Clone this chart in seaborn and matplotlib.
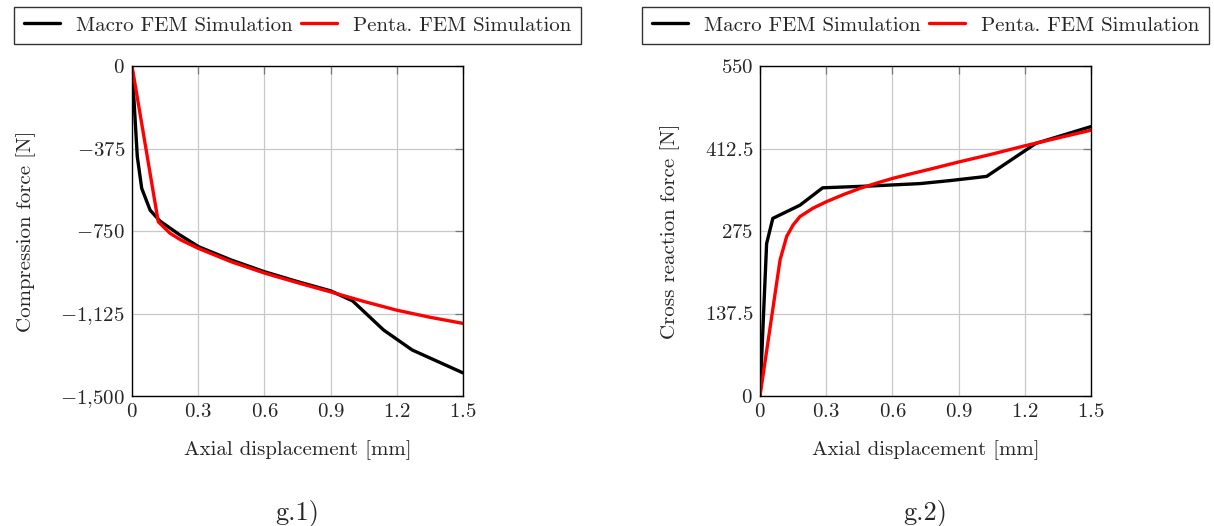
import matplotlib
matplotlib.use("Agg")
import matplotlib.pyplot as plt
import seaborn as sns
import pandas as pd

# Compression test (g.1): axial displacement [mm] vs compression force [N]
macro_comp_x = [0.0, 0.009, 0.024, 0.044, 0.082, 0.127, 0.217, 0.301, 0.45, 0.6, 0.75, 0.9, 1.0, 1.14, 1.27, 1.5]
macro_comp_y = [0, -155, -412, -556, -655, -705, -768, -821, -882, -935, -980, -1022, -1068, -1200, -1291, -1395]
penta_comp_x = [0.0, 0.119, 0.172, 0.22, 0.301, 0.45, 0.603, 0.75, 0.897, 1.05, 1.2, 1.35, 1.5]
penta_comp_y = [0, -708, -760, -790, -829, -890, -942, -985, -1026, -1070, -1110, -1142, -1170]

# Cross reaction (g.2): axial displacement [mm] vs cross reaction force [N]
macro_cross_x = [0.0, 0.03, 0.058, 0.181, 0.284, 0.5, 0.725, 0.861, 1.027, 1.25, 1.5]
macro_cross_y = [0, 254, 296, 318, 347, 350, 354, 359, 366, 421, 449]
penta_cross_x = [0.0, 0.091, 0.121, 0.15, 0.181, 0.24, 0.302, 0.38, 0.453, 0.53, 0.604, 0.68,
                 0.77, 0.9, 1.05, 1.2, 1.35, 1.5]
penta_cross_y = [0, 227, 266, 285, 299, 313, 324, 336, 346, 355, 363, 370,
                 378, 390, 403, 417, 430, 443]

series_names = ["Macro FEM Simulation", "Penta. FEM Simulation"]
series_colors = ["#000000", "#ff0000"]

x_ticks = [0, 0.3, 0.6, 0.9, 1.2, 1.5]
x_tick_labels = ["0", "0.3", "0.6", "0.9", "1.2", "1.5"]
comp_ticks = [0, -375, -750, -1125, -1500]
comp_tick_labels = ["0", "-375", "-750", "-1{,}125", "-1{,}500"]
cross_ticks = [0, 137.5, 275, 412.5, 550]
cross_tick_labels = ["0", "137.5", "275", "412.5", "550"]

sns.set_theme(style="whitegrid")
plt.rcParams["font.family"] = ["cmr10", "DejaVu Serif"]
plt.rcParams["mathtext.fontset"] = "cm"
plt.rcParams["axes.formatter.use_mathtext"] = True

FS = 15
W, H = 1214, 526
fig = plt.figure(figsize=(W / 100, H / 100), dpi=100)
fig.patch.set_facecolor("white")


def frame(px_left, px_top, px_w, px_h):
    return [px_left / W, 1 - (px_top + px_h) / H, px_w / W, px_h / H]


def make_df(xa, ya, xb, yb):
    return pd.concat([
        pd.DataFrame({"x": xa, "y": ya, "series": series_names[0]}),
        pd.DataFrame({"x": xb, "y": yb, "series": series_names[1]}),
    ], ignore_index=True)


panels = [
    dict(rect=frame(132, 66, 331, 330),
         df=make_df(macro_comp_x, macro_comp_y, penta_comp_x, penta_comp_y),
         yticks=comp_ticks, ylabels=comp_tick_labels, ylim=(-1500, 0),
         ylabel="Compression force [N]", ylx=-0.320, caption="g.1)", cx=297),
    dict(rect=frame(760, 66, 331, 330),
         df=make_df(macro_cross_x, macro_cross_y, penta_cross_x, penta_cross_y),
         yticks=cross_ticks, ylabels=cross_tick_labels, ylim=(0, 550),
         ylabel="Cross reaction force [N]", ylx=-0.272, caption="g.2)", cx=925),
]

for p in panels:
    ax = fig.add_axes(p["rect"])
    sns.lineplot(data=p["df"], x="x", y="y", hue="series", hue_order=series_names,
                 palette=series_colors, estimator=None, sort=False,
                 linewidth=2.4, ax=ax)
    ax.set_xlim(0, 1.5)
    ax.set_ylim(*p["ylim"])
    ax.set_xticks(x_ticks)
    ax.set_xticklabels(["$" + s + "$" for s in x_tick_labels], fontsize=FS)
    ax.set_yticks(p["yticks"])
    ax.set_yticklabels(["$" + s + "$" for s in p["ylabels"]], fontsize=FS)
    ax.set_xlabel("Axial displacement [mm]", fontsize=FS, labelpad=14)
    ax.set_ylabel(p["ylabel"], fontsize=FS)
    ax.yaxis.set_label_coords(p["ylx"], 0.5)
    ax.yaxis.label.set_verticalalignment("center")
    ax.set_facecolor("white")
    ax.grid(True, color="#c8c8c8", linewidth=0.9)
    for s in ax.spines.values():
        s.set_color("black")
        s.set_linewidth(1.0)
    ax.tick_params(direction="in", top=True, right=True, length=6, width=0.9,
                   color="#777777", pad=5)
    leg = ax.legend(loc="lower center", bbox_to_anchor=(0.5, 1.067), ncol=2,
                    borderaxespad=0, fontsize=FS, frameon=True, fancybox=False,
                    handlelength=1.75, handletextpad=0.75, columnspacing=0.4,
                    borderpad=0.45)
    leg.get_frame().set_edgecolor("black")
    leg.get_frame().set_linewidth(1.0)
    for line in leg.get_lines():
        line.set_linewidth(2.4)
    fig.text(p["cx"] / W, 1 - 513 / H, p["caption"], fontsize=19,
             ha="center", va="center")

fig.savefig("out.png", dpi=100, facecolor="white")
